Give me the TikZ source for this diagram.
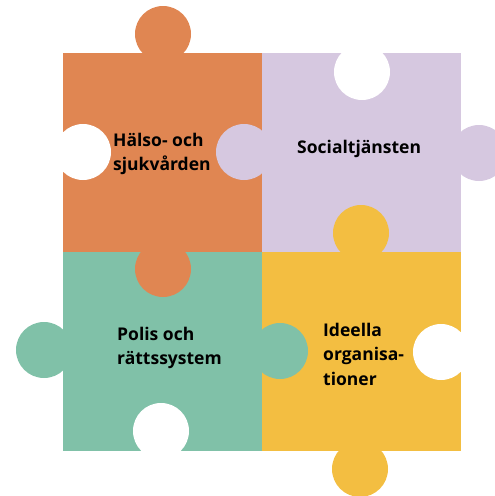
\documentclass[tikz,border=0pt]{standalone}
\usepackage{fontspec}
\setmainfont{Open Sans}
\definecolor{halso}{RGB}{224,134,82}
\definecolor{social}{RGB}{214,200,224}
\definecolor{polis}{RGB}{128,193,168}
\definecolor{ideell}{RGB}{243,190,65}
\begin{document}
\begin{tikzpicture}[x=1pt,y=-1pt,
        piecetext/.style={align=left,anchor=west,inner sep=0pt,
            font=\bfseries\fontsize{17.5}{24.5}\selectfont}]
    \useasboundingbox (0,0) rectangle (495,496);
    % squares
    \fill[halso] (63,53) rectangle (262,252);
    \fill[social] (262,53) rectangle (461,252);
    \fill[polis] (63,252) rectangle (262,451);
    \fill[ideell] (262,252) rectangle (461,451);

    % tabs
    \fill[halso] (163,34) circle (28pt);
    \fill[halso] (163,269) circle (28pt);
    \fill[social] (244,152) circle (28pt);
    \fill[social] (479,153) circle (28pt);
    \fill[ideell] (361,233) circle (28pt);
    \fill[ideell] (360,469) circle (28pt);
    \fill[polis] (44,350) circle (28pt);
    \fill[polis] (280,351) circle (28pt);

    % holes
    \fill[white] (83,152) circle (28pt);
    \fill[white] (362,72) circle (28pt);
    \fill[white] (161,431) circle (28pt);
    \fill[white] (441,352) circle (28pt);

    \node[piecetext] (halsotext) at (113,154) {Hälso- och\\sjukvården};
    \node[piecetext] (socialtext) at (297,149) {Socialtjänsten};
    \node[piecetext] (polistext) at (117,348) {Polis och\\rättssystem};
    \node[piecetext] (ideelltext) at (323,354) {Ideella\\organisa-\\tioner};
\end{tikzpicture}
\end{document}
